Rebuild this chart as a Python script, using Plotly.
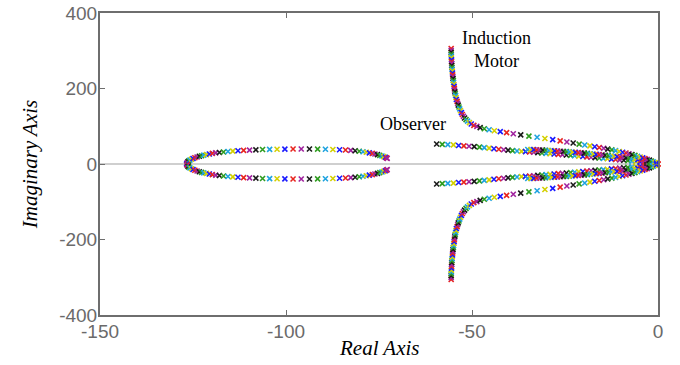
import plotly.graph_objects as go

# Observer ellipse (upper half; lower half is the conjugate)
ellipse_re = [-126.7, -126.6, -126.5, -126.3, -126.1, -125.8, -125.4, -125.0, -124.5, -123.9,
              -123.3, -122.7, -122.1, -121.4, -120.6, -119.8, -118.9, -117.9, -116.8, -115.6,
              -114.3, -112.9, -111.4, -109.8, -108.1, -106.3, -104.4, -102.4, -100.3, -98.1,
              -95.9, -93.7, -91.5, -89.4, -87.4, -85.6, -84.0, -82.6, -81.4, -80.3,
              -79.3, -78.4, -77.6, -76.8, -76.1, -75.4, -74.8, -74.2, -73.7, -73.3,
              -73.0, -72.8]
ellipse_im = [0.5, 2.5, 4.5, 6.5, 8.5, 10.5, 12.5, 14.5, 16.5, 18.5,
              20.5, 22.0, 23.5, 25.0, 26.5, 28.0, 29.3, 30.6, 31.8, 33.0,
              34.1, 35.1, 36.0, 36.8, 37.6, 38.3, 38.8, 39.2, 39.5, 39.7,
              39.8, 39.7, 39.4, 39.0, 38.5, 37.8, 37.0, 36.0, 35.0, 33.8,
              32.5, 31.1, 29.6, 28.0, 26.4, 24.7, 23.0, 21.3, 19.6, 17.9,
              16.3, 14.8]

# Induction motor branch (upper)
motor_re = [-55.6, -55.6, -55.6, -55.6, -55.55, -55.55, -55.5, -55.5, -55.45, -55.45,
            -55.4, -55.35, -55.3, -55.25, -55.2, -55.15, -55.1, -55.0, -54.95, -54.9,
            -54.8, -54.75, -54.7, -54.6, -54.5, -54.4, -54.3, -54.2, -54.0, -53.85,
            -53.7, -53.5, -53.3, -53.1, -52.85, -52.6, -52.3, -52.0, -51.6, -51.2,
            -50.7, -50.2, -49.5, -48.7, -47.8, -46.7, -45.4, -44.0, -42.4, -40.7,
            -38.9, -36.9, -34.7, -32.5, -30.4, -28.3, -26.3, -24.5, -22.8, -21.2,
            -19.7, -18.3, -17.0, -15.8, -14.6, -13.5, -12.4, -11.4, -10.4, -9.5,
            -8.6, -7.8, -7.0, -6.2, -5.5, -4.8, -4.1, -3.5, -2.9, -2.3,
            -1.8, -1.3, -0.8, -0.4]
motor_im = [306, 301, 296, 291, 286, 281, 276, 271, 266, 261,
            256, 251, 246, 241, 236, 231, 226, 221, 216, 211,
            206, 201, 196, 191, 186, 181, 176, 171, 166, 161,
            156, 151, 146, 141, 136, 131, 126.5, 122, 117.5, 113.5,
            109.5, 106, 102.5, 99.5, 96.5, 93.5, 90.8, 88.2, 85.6, 83,
            80.2, 77.2, 74, 70.8, 67.6, 64.4, 61.3, 58.3, 55.5, 52.8,
            50.3, 48, 45.8, 43.7, 41.6, 39.5, 37.4, 35.3, 33.2, 31.1,
            29, 26.9, 24.8, 22.7, 20.6, 18.5, 16.4, 14.3, 12.2, 10.1,
            8, 6, 4, 2]

# Observer inner branch (upper)
inner_re = [-59.5, -58.0, -56.5, -55.0, -53.6, -52.2, -50.8, -49.4, -48.0, -46.7,
            -45.4, -44.1, -42.8, -41.5, -40.3, -39.1, -37.9, -36.7, -35.6, -34.5,
            -33.4, -32.3, -31.2, -30.1, -29.0, -27.9, -26.8, -25.7, -24.6, -23.5,
            -22.4, -21.3, -20.2, -19.1, -18.0, -16.9, -15.8, -14.7, -13.6, -12.5,
            -11.4, -10.3, -9.2, -8.1, -7.0, -5.9, -4.8, -3.7, -2.6, -1.6, -0.7]
inner_im = [53, 52, 51.5, 50.5, 49, 48, 47, 46, 44.8, 43.5,
            42, 40.5, 39.2, 37.8, 36.6, 35.5, 34.5, 33.6, 32.8, 32,
            31.0, 30.0, 29.1, 28.2, 27.3, 26.4, 25.5, 24.6, 23.7, 22.8,
            21.8, 20.8, 19.8, 18.8, 17.8, 16.8, 15.8, 14.8, 13.8, 12.8,
            11.8, 10.8, 9.8, 8.8, 7.8, 6.8, 5.8, 4.7, 3.6, 2.4, 1.2]

# Second inner branch (upper), dense near the origin
inner2_re = [-35.0, -34.2, -33.4, -32.6, -31.8, -31.0, -30.2, -29.4, -28.6, -27.8,
             -27.0, -26.2, -25.4, -24.6, -23.8, -23.0, -22.2, -21.4, -20.6, -19.8,
             -19.0, -18.2, -17.4, -16.6, -15.8, -15.0, -14.2, -13.4, -12.6, -11.8,
             -11.0, -10.2, -9.4, -8.6, -7.8, -7.0, -6.2, -5.4, -4.6, -3.8,
             -3.0, -2.3, -1.6, -1.0, -0.5, 0.0]
inner2_im = [38.5, 38.2, 37.9, 37.5, 37.1, 36.7, 36.3, 35.8, 35.3, 34.8,
             34.3, 33.8, 33.2, 32.6, 32.0, 31.4, 30.8, 30.1, 29.4, 28.7,
             28.0, 27.2, 26.4, 25.6, 24.8, 24.0, 23.1, 22.2, 21.3, 20.4,
             19.4, 18.4, 17.4, 16.3, 15.2, 14.1, 12.9, 11.7, 10.4, 9.0,
             7.6, 6.1, 4.6, 3.0, 1.5, 0.3]

color_cycle = ['#1a1aff', '#e8251f', '#a0229f', '#1a1a1a', '#2e9c1f', '#1fa3e0', '#d4d000']

x_ticks = [-150, -100, -50, 0]
y_ticks = [-400, -200, 0, 200, 400]

fig = go.Figure()

def add_branch(re, im, offset=0):
    cols = [color_cycle[(i + offset) % len(color_cycle)] for i in range(len(re))]
    for sign in (1, -1):
        fig.add_trace(go.Scatter(
            x=re, y=[sign * v for v in im], mode='markers', cliponaxis=False,
            marker=dict(symbol='x-thin', size=5, color=cols,
                        line=dict(width=1.6, color=cols)),
            showlegend=False, hoverinfo='skip'))

add_branch(ellipse_re, ellipse_im, 0)
add_branch(inner_re, inner_im, 3)
add_branch(inner2_re, inner2_im, 5)
add_branch(motor_re, motor_im, 1)

axis_common = dict(showline=True, linecolor='#6e6e6e', linewidth=2, mirror='ticks',
                   ticks='inside', ticklen=5, tickwidth=1, tickcolor='#6e6e6e',
                   showgrid=False, automargin=False,
                   tickfont=dict(family='Liberation Sans, Arial, sans-serif', size=19, color='#6a6a6a'))

fig.update_xaxes(range=[-150, 0], tickvals=x_ticks, ticktext=[str(v) for v in x_ticks],
                 zeroline=False, ticklabelstandoff=-2, **axis_common)
fig.update_yaxes(range=[-400, 400], tickvals=y_ticks, ticktext=[str(v) for v in y_ticks],
                 zeroline=True, zerolinecolor='#cfcfcf', zerolinewidth=2,
                 ticklabelstandoff=-3, **axis_common)

serif = 'Liberation Serif, Times New Roman, serif'
fig.add_annotation(text='<i>Real Axis</i>', xref='paper', yref='paper', x=0.5, y=-0.11,
                   showarrow=False, font=dict(family=serif, size=21, color='black'),
                   xanchor='center', yanchor='middle')
fig.add_annotation(text='<i>Imaginary Axis</i>', xref='paper', yref='paper', x=-0.125, y=0.5,
                   showarrow=False, textangle=-90, font=dict(family=serif, size=21, color='black'),
                   xanchor='center', yanchor='middle')
fig.add_annotation(text='Induction<br>Motor', x=-43.4, y=303, showarrow=False,
                   font=dict(family=serif, size=18, color='black'), xanchor='center', yanchor='middle')
fig.add_annotation(text='Observer', x=-65.9, y=106, showarrow=False,
                   font=dict(family=serif, size=18, color='black'), xanchor='center', yanchor='middle')

fig.update_layout(width=680, height=365, margin=dict(l=100, r=22, t=13, b=50),
                  paper_bgcolor='white', plot_bgcolor='white')

fig.write_html('out.html')
